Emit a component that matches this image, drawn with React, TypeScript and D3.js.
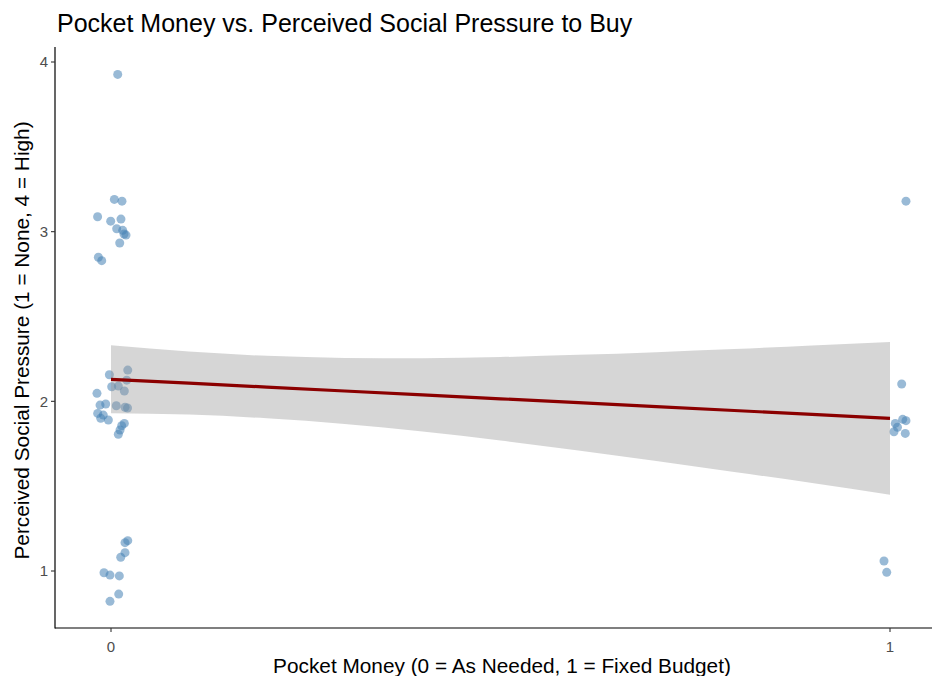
import React from "react";
import * as d3 from "d3";

const TITLE = "Pocket Money vs. Perceived Social Pressure to Buy";
const X_LABEL = "Pocket Money (0 = As Needed, 1 = Fixed Budget)";
const Y_LABEL = "Perceived Social Pressure (1 = None, 4 = High)";

const X_TICKS = [0, 1];
const Y_TICKS = [1, 2, 3, 4];

// jittered points: pocket money (x) and social pressure (y)
const pointX = [
  0.0086, 0.0043, 0.0141, -0.0172, -0.0004, 0.0128, 0.0073, 0.0150, 0.0167, 0.0193, 0.0112, -0.0162, -0.0119,
  -0.0021, 0.0215, 0.0202, 0.0009, 0.0094, 0.0171, -0.0180, -0.0141, -0.0068, 0.0068, 0.0180, 0.0212,
  -0.0171, -0.0099, -0.0132, -0.0034, 0.0171, 0.0137, 0.0116, 0.0094,
  0.0215, 0.0180, 0.0180, 0.0125, -0.0090, -0.0013, 0.0107, 0.0099, -0.0013,
  1.0205, 1.0150, 1.0163, 1.0205, 1.0068, 1.0096, 1.0051, 1.0196, 0.9923, 0.9958,
];
const pointY = [
  3.927, 3.190, 3.180, 3.088, 3.062, 3.074, 3.017, 3.008, 2.986, 2.980, 2.933, 2.849, 2.829,
  2.157, 2.184, 2.125, 2.086, 2.090, 2.061, 2.047, 1.978, 1.984, 1.974, 1.965, 1.961,
  1.929, 1.919, 1.900, 1.890, 1.870, 1.856, 1.831, 1.806,
  1.179, 1.167, 1.108, 1.081, 0.990, 0.976, 0.971, 0.864, 0.821,
  3.180, 2.102, 1.894, 1.886, 1.870, 1.847, 1.821, 1.811, 1.059, 0.992,
];

// linear fit and 95% confidence band
const fitX = [0, 0.1, 0.2, 0.3, 0.4, 0.5, 0.6, 0.7, 0.8, 0.9, 1.0];
const fitY = [2.13, 2.107, 2.084, 2.061, 2.038, 2.015, 1.992, 1.969, 1.946, 1.923, 1.9];
const bandUpper = [2.33, 2.293, 2.268, 2.256, 2.254, 2.261, 2.274, 2.29, 2.308, 2.329, 2.35];
const bandLower = [1.93, 1.922, 1.9, 1.867, 1.822, 1.769, 1.71, 1.648, 1.584, 1.518, 1.45];

const W = 935;
const H = 676;
const panel = { left: 55, right: 932, top: 47, bottom: 628 };
const FONT = "'Liberation Sans', Arial, Helvetica, sans-serif";

export default function App() {
  const x = d3.scaleLinear().domain([0, 1]).range([111, 890]);
  const y = d3.scaleLinear().domain([1, 4]).range([571, 62]);

  const fit = fitX.map((v, i) => ({ x: v, y: fitY[i], lo: bandLower[i], hi: bandUpper[i] }));
  const area = d3
    .area<{ x: number; y: number; lo: number; hi: number }>()
    .x((d) => x(d.x))
    .y0((d) => y(d.lo))
    .y1((d) => y(d.hi))
    .curve(d3.curveMonotoneX);
  const line = d3
    .line<{ x: number; y: number }>()
    .x((d) => x(d.x))
    .y((d) => y(d.y));

  return (
    <svg
      width={W}
      height={H}
      style={{ position: "absolute", left: 0, top: 0, background: "#fff" }}
      fontFamily={FONT}
    >
      <rect x={0} y={0} width={W} height={H} fill="#fff" />
      <text x={57} y={32} fontSize={25} fill="#000">
        {TITLE}
      </text>

      {pointX.map((px, i) => (
        <circle key={i} cx={x(px)} cy={y(pointY[i])} r={4.5} fill="#4682B4" fillOpacity={0.55} />
      ))}

      <path d={area(fit) || ""} fill="#999999" fillOpacity={0.4} />
      <path d={line(fit) || ""} fill="none" stroke="#8B0000" strokeWidth={3.2} />

      {/* axes */}
      <line x1={panel.left} x2={panel.left} y1={panel.top} y2={panel.bottom + 0.5} stroke="#000" strokeWidth={1.2} />
      <line x1={panel.left} x2={panel.right} y1={panel.bottom} y2={panel.bottom} stroke="#000" strokeWidth={1.2} />

      {Y_TICKS.map((t) => (
        <g key={"y" + t}>
          <line x1={panel.left - 4} x2={panel.left} y1={y(t)} y2={y(t)} stroke="#333" strokeWidth={1.1} />
          <text x={panel.left - 7} y={y(t)} dy="0.36em" textAnchor="end" fontSize={15} fill="#4d4d4d">
            {t}
          </text>
        </g>
      ))}
      {X_TICKS.map((t) => (
        <g key={"x" + t}>
          <line x1={x(t)} x2={x(t)} y1={panel.bottom} y2={panel.bottom + 4} stroke="#333" strokeWidth={1.1} />
          <text x={x(t)} y={652} textAnchor="middle" fontSize={15} fill="#4d4d4d">
            {t}
          </text>
        </g>
      ))}

      <text x={502} y={673} textAnchor="middle" fontSize={20.8} fill="#000">
        {X_LABEL}
      </text>
      <text
        transform={`translate(29, ${(panel.top + panel.bottom) / 2 + 3}) rotate(-90)`}
        textAnchor="middle"
        fontSize={20.8}
        fill="#000"
      >
        {Y_LABEL}
      </text>
    </svg>
  );
}
